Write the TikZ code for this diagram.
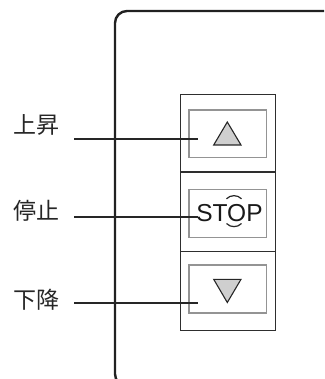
\documentclass[tikz,border=0pt]{standalone}
\usepackage{fontspec}
\newfontfamily\cjk{Noto Sans CJK JP}
\newfontfamily\lsans{Liberation Sans}
\begin{document}
\begin{tikzpicture}[x=1pt,y=-1pt,
  panel/.style={draw=black!87,line width=2.4pt,rounded corners=12pt},
  outerbox/.style={draw=black!82,line width=1.2pt},
  innerbox/.style={draw=black!42,line width=1.1pt},
  tri/.style={draw=black!85,line width=1.1pt,fill=black!19,line join=miter},
  lead/.style={draw=black!85,line width=1.3pt},
  lbl/.style={font=\cjk\fontsize{23}{23}\selectfont,anchor=east,inner sep=0pt,text=black!85}]
\useasboundingbox (0,0) rectangle (324,379);
\clip (0,0) rectangle (324,379);
% panel
\draw[panel] (335,11) -- (115,11) -- (115,386) -- (335,386);
% button column
\node[outerbox,minimum width=95pt,minimum height=236pt,inner sep=0pt,anchor=north west] (col) at (180,94) {};
\draw[outerbox] (180,172) -- (275,172);
\draw[outerbox] (180,251.5) -- (275,251.5);
\node[innerbox,minimum width=77.5pt,minimum height=47.5pt,inner sep=0pt] (bup) at (227.75,133.75) {};
\node[innerbox,minimum width=77.5pt,minimum height=48pt,inner sep=0pt] (bstop) at (227.75,213.5) {};
\node[innerbox,minimum width=77.5pt,minimum height=48pt,inner sep=0pt] (bdown) at (227.75,289) {};
% triangles
\draw[tri] (213.7,145) -- (227.3,122) -- (241,145) -- cycle;
\draw[tri] (213.7,279.3) -- (227.3,302.5) -- (241,279.3) -- cycle;
% STOP
\node[font=\lsans\fontsize{24.5}{24.5}\selectfont,inner sep=0pt,text=black!90] (stop) at (229.5,212.8) {STOP};
\draw[black!85,line width=1.2pt] (226.5,198.8) .. controls (230.5,194.6) and (237.5,194.6) .. (241.5,198.8);
\draw[black!85,line width=1.2pt] (226.5,223.5) .. controls (230.5,227.7) and (237.5,227.7) .. (241.5,223.5);
% labels
\node[lbl] (lup) at (60,125) {上昇};
\node[lbl] (lstop) at (60,211) {停止};
\node[lbl] (ldown) at (60,300) {下降};
\coordinate (sup) at (74,139);
\coordinate (eup) at (197.7,139);
\coordinate (sstop) at (74,217);
\coordinate (estop) at (198,217);
\coordinate (sdown) at (74,303);
\coordinate (edown) at (197.7,303);
\draw[lead] (sup) -- (eup);
\draw[lead] (sstop) -- (estop);
\draw[lead] (sdown) -- (edown);
\end{tikzpicture}
\end{document}
